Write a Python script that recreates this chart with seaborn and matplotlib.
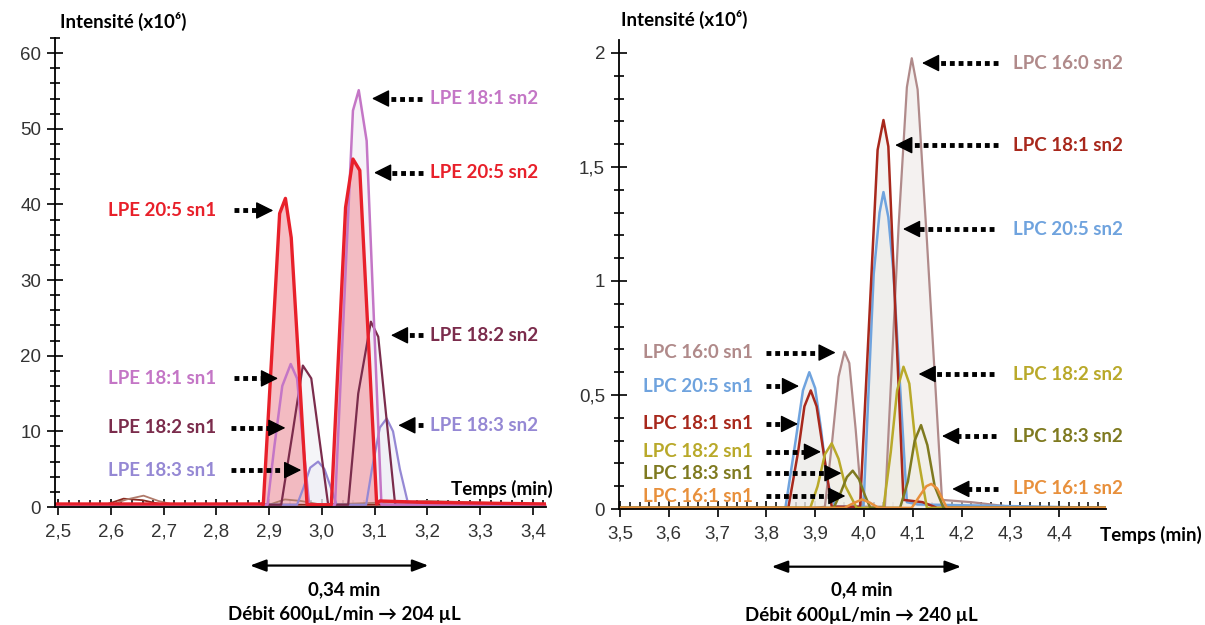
import numpy as np
import pandas as pd
import seaborn as sns
import matplotlib.pyplot as plt
from matplotlib.ticker import MultipleLocator, FuncFormatter

# ---- left panel : LPE (intensity x10^6) ----
lpe205_t = [2.49, 2.80, 2.885, 2.889, 2.905, 2.920, 2.931, 2.942, 2.972, 2.976, 3.015, 3.018, 3.045, 3.059, 3.072, 3.104, 3.110, 3.20, 3.43]
lpe205_v = [0.4, 0.4, 0.4, 0.3, 20, 38.8, 40.8, 35.6, 0.3, 0.3, 0.3, 0.3, 39.6, 46.0, 44.5, 0.4, 0.8, 0.6, 0.4]
lpe181_t = [2.49, 2.89, 2.897, 2.910, 2.925, 2.941, 2.953, 2.965, 2.976, 3.025, 3.045, 3.059, 3.070, 3.085, 3.113, 3.43]
lpe181_v = [0.3, 0.3, 0.3, 8, 16, 18.9, 17, 8, 0.3, 0.3, 31, 52.4, 55.1, 48.4, 0.3, 0.3]
lpe182_t = [2.49, 2.92, 2.923, 2.945, 2.964, 2.980, 3.012, 3.05, 3.069, 3.093, 3.107, 3.139, 3.43]
lpe182_v = [0.3, 0.3, 0.3, 10, 18.7, 17, 0.3, 0.3, 15, 24.5, 22.5, 0.3, 0.3]
lpe183_t = [2.49, 2.95, 2.953, 2.965, 2.978, 2.993, 3.005, 3.015, 3.028, 3.08, 3.084, 3.095, 3.110, 3.123, 3.135, 3.148, 3.164, 3.43]
lpe183_v = [0.3, 0.3, 0.3, 2.5, 5.2, 6.0, 5.0, 3.0, 0.3, 0.3, 0.3, 5, 10.5, 11.7, 10, 5, 0.3, 0.3]
bump1_t = [2.49, 2.60, 2.63, 2.662, 2.69, 2.72, 2.90, 2.93, 2.96, 3.0, 3.2, 3.3, 3.43]
bump1_v = [0.3, 0.3, 1.0, 1.5, 0.8, 0.3, 0.3, 1.0, 0.8, 0.3, 0.8, 0.6, 0.3]
bump2_t = [2.49, 2.59, 2.624, 2.66, 2.70, 3.43]
bump2_v = [0.3, 0.3, 1.1, 0.9, 0.3, 0.3]

# ---- right panel : LPC ----
lpc160_t = [3.498, 3.90, 3.920, 3.935, 3.948, 3.960, 3.970, 3.983, 3.996, 4.043, 4.071, 4.088, 4.098, 4.110, 4.129, 4.160, 4.22, 4.30, 4.496]
lpc160_v = [0.005, 0.005, 0.01, 0.30, 0.58, 0.69, 0.64, 0.35, 0.01, 0.01, 1.24, 1.85, 1.977, 1.84, 1.18, 0.04, 0.03, 0.01, 0.005]
lpc181_t = [3.498, 3.845, 3.865, 3.878, 3.891, 3.903, 3.915, 3.934, 3.992, 4.028, 4.040, 4.050, 4.081, 4.12, 4.15, 4.496]
lpc181_v = [0.005, 0.005, 0.25, 0.45, 0.52, 0.45, 0.28, 0.01, 0.01, 1.575, 1.706, 1.59, 0.04, 0.03, 0.005, 0.005]
lpc205_t = [3.498, 3.839, 3.860, 3.875, 3.888, 3.900, 3.912, 3.925, 3.941, 3.999, 4.020, 4.032, 4.040, 4.050, 4.060, 4.088, 4.11, 4.496]
lpc205_v = [0.005, 0.005, 0.30, 0.52, 0.60, 0.53, 0.35, 0.12, 0.01, 0.01, 1.03, 1.30, 1.39, 1.28, 1.05, 0.03, 0.02, 0.005]
lpc182_t = [3.498, 3.890, 3.905, 3.920, 3.934, 3.948, 3.962, 3.985, 4.040, 4.055, 4.068, 4.081, 4.093, 4.105, 4.129, 4.496]
lpc182_v = [0.005, 0.005, 0.10, 0.24, 0.288, 0.22, 0.10, 0.005, 0.005, 0.25, 0.52, 0.624, 0.55, 0.30, 0.005, 0.005]
lpc183_t = [3.498, 3.938, 3.952, 3.965, 3.977, 3.990, 4.002, 4.013, 4.074, 4.090, 4.104, 4.117, 4.130, 4.145, 4.163, 4.496]
lpc183_v = [0.005, 0.005, 0.07, 0.14, 0.168, 0.13, 0.06, 0.005, 0.005, 0.12, 0.30, 0.368, 0.28, 0.10, 0.005, 0.005]
lpc161_t = [3.498, 3.960, 3.978, 3.996, 4.012, 4.030, 4.098, 4.115, 4.128, 4.138, 4.150, 4.170, 4.496]
lpc161_v = [0.005, 0.005, 0.025, 0.042, 0.028, 0.005, 0.005, 0.06, 0.10, 0.11, 0.09, 0.005, 0.005]

RED = '#e8202a'
ORCHID = '#c476c6'
MAROON = '#7b2c4c'
LAVENDER = '#9588d4'
C160 = '#b08a8a'
C181 = '#a8281c'
C205 = '#6fa3de'
C182 = '#b9a92a'
C183 = '#7f7a20'
C161 = '#e8903c'

left_traces = [
    (bump2_t, bump2_v, '#8b2a20', 1.3, None),
    (bump1_t, bump1_v, '#b07a6a', 1.3, None),
    (lpe183_t, lpe183_v, LAVENDER, 1.6, '#ececf6'),
    (lpe182_t, lpe182_v, MAROON, 1.6, '#ededf4'),
    (lpe181_t, lpe181_v, ORCHID, 1.8, '#f0eaf4'),
    (lpe205_t, lpe205_v, RED, 2.4, '#f3a9b0'),
]
right_traces = [
    (lpc160_t, lpc160_v, C160, 1.6, '#ebe6e4'),
    (lpc205_t, lpc205_v, C205, 1.8, '#eceae8'),
    (lpc181_t, lpc181_v, C181, 1.8, '#eceae8'),
    (lpc182_t, lpc182_v, C182, 1.8, '#f1efe4'),
    (lpc183_t, lpc183_v, C183, 1.8, '#efeee4'),
    (lpc161_t, lpc161_v, C161, 1.8, '#f4ece4'),
]

sns.set_theme(style='white')
plt.rcParams['font.family'] = ['Liberation Sans', 'DejaVu Sans']
LBL = ['Lato', 'DejaVu Sans']

fig = plt.figure(figsize=(12.05, 6.25), dpi=100)
axL = fig.add_axes([0.0456, 0.1888, 0.4075, 0.7504])
axR = fig.add_axes([0.5137, 0.1856, 0.4041, 0.7504])


def draw(ax, traces):
    for t, v, col, lw, fill in traces:
        if fill is not None:
            ax.fill_between(t, v, 0, color=fill, alpha=0.75 if col == RED else 0.55, lw=0, zorder=1)
    for t, v, col, lw, fill in traces:
        sns.lineplot(x=t, y=v, color=col, linewidth=lw, ax=ax, sort=False,
                     estimator=None, legend=False, zorder=2)


draw(axL, left_traces)
draw(axR, right_traces)

comma = lambda fmt: FuncFormatter(lambda x, p: fmt(x).replace('.', ','))

for ax in (axL, axR):
    for s in ('top', 'right'):
        ax.spines[s].set_visible(False)
    for s in ('left', 'bottom'):
        ax.spines[s].set_color('black')
        ax.spines[s].set_linewidth(1.3)
    ax.tick_params(axis='y', which='major', direction='inout', length=12, width=1.2, left=True,
                   colors='black', labelcolor='#333333', labelsize=13.5, pad=4)
    ax.tick_params(axis='y', which='minor', direction='inout', length=7, width=1.2, colors='black', left=True)
    ax.tick_params(axis='x', which='major', direction='inout', length=12, width=1.2, bottom=True,
                   colors='black', labelcolor='#333333', labelsize=13.5, pad=6)
    ax.tick_params(axis='x', which='minor', direction='in', length=5, width=1.1, colors='black', bottom=True)
    ax.set_xlabel('')
    ax.set_ylabel('')
    ax.grid(False)

axL.set_xlim(2.494, 3.425)
axL.set_ylim(0, 62)
axL.xaxis.set_major_locator(MultipleLocator(0.1))
axL.xaxis.set_minor_locator(MultipleLocator(0.02))
axL.yaxis.set_major_locator(MultipleLocator(10))
axL.yaxis.set_minor_locator(MultipleLocator(2))
axL.xaxis.set_major_formatter(comma(lambda x: f'{x:.1f}'))
axL.yaxis.set_major_formatter(comma(lambda x: f'{x:g}'))

axR.set_xlim(3.498, 4.496)
axR.set_ylim(0, 2.057)
axR.xaxis.set_major_locator(MultipleLocator(0.1))
axR.xaxis.set_minor_locator(MultipleLocator(0.02))
axR.yaxis.set_major_locator(MultipleLocator(0.5))
axR.yaxis.set_minor_locator(MultipleLocator(0.1))
axR.xaxis.set_major_formatter(comma(lambda x: f'{x:.1f}' if x < 4.45 else ''))
axR.yaxis.set_major_formatter(comma(lambda x: f'{x:g}'))

for ax in (axL, axR):
    for lab in ax.get_xticklabels() + ax.get_yticklabels():
        lab.set_family(['Liberation Sans', 'DejaVu Sans'])

head_kw = dict(arrowstyle='-|>,head_length=0.9,head_width=0.45', color='black',
               lw=1, shrinkA=0, shrinkB=0)


def label(ax, text, col, y, tip, tail, tx, ha, gap):
    base = tip + np.sign(tail - tip) * gap
    ax.plot([tail, base], [y, y], color='black', lw=3.5, linestyle=(0, (1, 0.8)),
            dash_capstyle='butt', clip_on=False, zorder=6)
    ax.annotate('', xy=(tip, y), xytext=(base, y), arrowprops=head_kw, annotation_clip=False, zorder=6)
    ax.text(tx, y, text, color=col, ha=ha, va='center', fontsize=13.5, family=LBL,
            fontweight='bold', clip_on=False, zorder=6)


gL, gR = 0.022, 0.024
# left panel labels
label(axL, 'LPE 18:1 sn2', ORCHID, 54.0, 3.095, 3.190, 3.206, 'left', gL)
label(axL, 'LPE 20:5 sn2', RED, 44.2, 3.099, 3.192, 3.206, 'left', gL)
label(axL, 'LPE 20:5 sn1', RED, 39.2, 2.908, 2.833, 2.799, 'right', gL)
label(axL, 'LPE 18:2 sn2', MAROON, 22.7, 3.131, 3.192, 3.206, 'left', gL)
label(axL, 'LPE 18:1 sn1', ORCHID, 17.0, 2.917, 2.833, 2.799, 'right', gL)
label(axL, 'LPE 18:2 sn1', MAROON, 10.46, 2.931, 2.828, 2.799, 'right', gL)
label(axL, 'LPE 18:3 sn1', LAVENDER, 4.88, 2.961, 2.828, 2.799, 'right', gL)
label(axL, 'LPE 18:3 sn2', LAVENDER, 10.8, 3.145, 3.192, 3.206, 'left', gL)

# right panel labels
label(axR, 'LPC 16:0 sn2', C160, 1.956, 4.119, 4.274, 4.306, 'left', gR)
label(axR, 'LPC 18:1 sn2', C181, 1.596, 4.064, 4.274, 4.306, 'left', gR)
label(axR, 'LPC 20:5 sn2', C205, 1.228, 4.080, 4.266, 4.306, 'left', gR)
label(axR, 'LPC 16:0 sn1', C160, 0.686, 3.942, 3.800, 3.772, 'right', gR)
label(axR, 'LPC 20:5 sn1', C205, 0.539, 3.867, 3.800, 3.772, 'right', gR)
label(axR, 'LPC 18:1 sn1', C181, 0.373, 3.865, 3.800, 3.772, 'right', gR)
label(axR, 'LPC 18:2 sn1', C182, 0.251, 3.912, 3.800, 3.772, 'right', gR)
label(axR, 'LPC 18:3 sn1', C183, 0.157, 3.954, 3.800, 3.772, 'right', gR)
label(axR, 'LPC 16:1 sn1', C161, 0.057, 3.962, 3.800, 3.772, 'right', gR)
label(axR, 'LPC 18:2 sn2', C182, 0.592, 4.112, 4.266, 4.306, 'left', gR)
label(axR, 'LPC 18:3 sn2', C183, 0.320, 4.160, 4.270, 4.306, 'left', gR)
label(axR, 'LPC 16:1 sn2', C161, 0.088, 4.181, 4.274, 4.306, 'left', gR)

# axis titles
title_kw = dict(fontsize=13.5, family=LBL, fontweight='bold', color='black', clip_on=False)
axL.text(2.503, 64.2, 'Intensité (x10⁶)', ha='left', va='center', **title_kw)
axR.text(3.503, 2.145, 'Intensité (x10⁶)', ha='left', va='center', **title_kw)
axL.text(3.438, 2.4, 'Temps (min)', ha='right', va='center', **title_kw)
axR.text(4.693, -0.114, 'Temps (min)', ha='right', va='center', **title_kw)

# elution window
dbl = dict(arrowstyle='<|-|>,head_length=0.8,head_width=0.3', color='black', lw=1.6, shrinkA=0, shrinkB=0)
axL.annotate('', xy=(2.864, -7.74), xytext=(3.202, -7.74), arrowprops=dbl, annotation_clip=False)
axL.text(3.043, -10.95, '0,34 min', ha='center', va='center', **title_kw)
axL.text(3.043, -14.25, 'Débit 600µL/min → 204 µL', ha='center', va='center', **title_kw)
axR.annotate('', xy=(3.811, -0.253), xytext=(4.199, -0.253), arrowprops=dbl, annotation_clip=False)
axR.text(3.995, -0.355, '0,4 min', ha='center', va='center', **title_kw)
axR.text(3.995, -0.465, 'Débit 600µL/min → 240 µL', ha='center', va='center', **title_kw)

fig.savefig('out.png', dpi=100, facecolor='white')
